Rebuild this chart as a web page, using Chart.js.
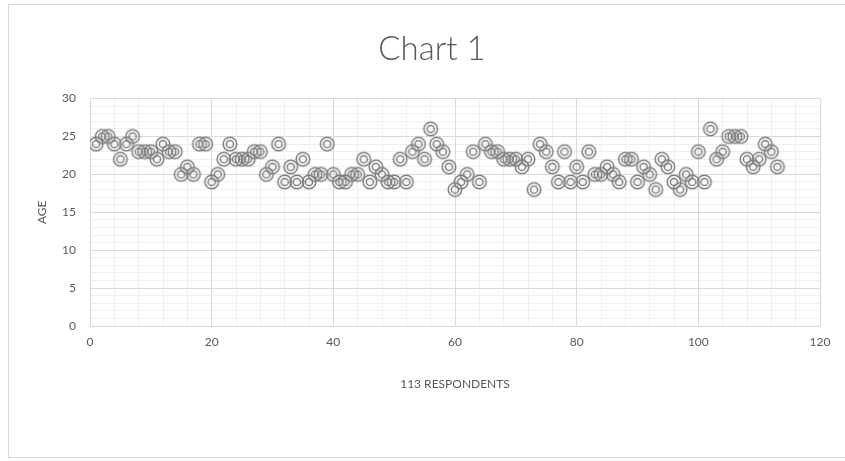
<!DOCTYPE html>
<html>
<head>
<meta charset="utf-8">
<script src="https://cdn.jsdelivr.net/npm/chart.js@4"></script>
<style>
  html, body { margin: 0; padding: 0; background: #fff; }
  #wrap { width: 845px; height: 461px; }
</style>
</head>
<body>
<div id="wrap"><canvas id="myChart" width="845" height="461"></canvas></div>
<script>
// ages of the 113 respondents, in order
const ages = [
    24, 25, 25, 24, 22, 24, 25, 23, 23, 23,
    22, 24, 23, 23, 20, 21, 20, 24, 24, 19,
    20, 22, 24, 22, 22, 22, 23, 23, 20, 21,
    24, 19, 21, 19, 22, 19, 20, 20, 24, 20,
    19, 19, 20, 20, 22, 19, 21, 20, 19, 19,
    22, 19, 23, 24, 22, 26, 24, 23, 21, 18,
    19, 20, 23, 19, 24, 23, 23, 22, 22, 22,
    21, 22, 18, 24, 23, 21, 19, 23, 19, 21,
    19, 23, 20, 20, 21, 20, 19, 22, 22, 19,
    21, 20, 18, 22, 21, 19, 18, 20, 19, 23,
    19, 26, 22, 23, 25, 25, 25, 22, 21, 22,
    24, 23, 21
];
const xTicks = [0, 20, 40, 60, 80, 100, 120];
const yTicks = [0, 5, 10, 15, 20, 25, 30];

const points = ages.map((a, i) => ({ x: i + 1, y: a }));

// double circle marker
const marker = document.createElement("canvas");
marker.width = 18;
marker.height = 18;
const mctx = marker.getContext("2d");
mctx.strokeStyle = "#7f7f7f";
mctx.lineWidth = 1.5;
mctx.beginPath();
mctx.arc(9, 9, 6.8, 0, Math.PI * 2);
mctx.stroke();
mctx.beginPath();
mctx.arc(9, 9, 3.6, 0, Math.PI * 2);
mctx.stroke();

const frame = {
    id: "frame",
    beforeDraw(chart) {
        const c = chart.ctx;
        c.save();
        c.fillStyle = "#fff";
        c.fillRect(0, 0, chart.width, chart.height);
        c.strokeStyle = "#d9d9d9";
        c.lineWidth = 1;
        c.strokeRect(8.5, 4.5, 900, 453);
        c.restore();
    }
};

const txt = "#595959";
const major = "#d9d9d9";
const minor = "#efefef";

new Chart("myChart", {
    type: "scatter",
    data: {
        datasets: [{
            data: points,
            pointStyle: marker,
            pointRadius: 8,
            pointHoverRadius: 8
        }]
    },
    plugins: [frame],
    options: {
        responsive: false,
        animation: false,
        layout: { padding: { left: 19, right: 0, top: 0, bottom: 0 } },
        plugins: {
            legend: { display: false },
            tooltip: { enabled: false },
            title: {
                display: true,
                text: "Chart 1",
                color: txt,
                font: { family: "Lato", size: 33, weight: "300" },
                padding: { top: 30, bottom: 29 }
            }
        },
        scales: {
            x: {
                type: "linear",
                position: "bottom",
                min: 0,
                max: 120,
                afterBuildTicks: s => { s.ticks = xTicks.map(v => ({ value: v })); },
                afterFit: s => { s.height = 135; },
                grid: { color: major, drawTicks: false },
                border: { color: major },
                ticks: { color: txt, padding: 9, font: { family: "Lato", size: 12 } },
                title: {
                    display: true,
                    text: "113 RESPONDENTS",
                    color: txt,
                    font: { family: "Lato", size: 12 },
                    padding: { top: 0, bottom: 70 }
                }
            },
            xMinor: {
                type: "linear",
                position: "top",
                min: 0,
                max: 120,
                ticks: { display: false, stepSize: 4 },
                afterFit: s => { s.height = 0; },
                grid: { color: minor, drawTicks: false, z: -2 },
                border: { display: false }
            },
            y: {
                position: "left",
                min: 0,
                max: 30,
                afterBuildTicks: s => { s.ticks = yTicks.map(v => ({ value: v })); },
                afterFit: s => { s.width = 71; },
                grid: { color: major, drawTicks: false },
                border: { display: false },
                ticks: { color: txt, padding: 14, font: { family: "Lato", size: 12 } },
                title: {
                    display: true,
                    text: "AGE",
                    color: txt,
                    font: { family: "Lato", size: 12 },
                    padding: { top: 16, bottom: 0 }
                }
            },
            yMinor: {
                position: "right",
                min: 0,
                max: 30,
                ticks: { display: false, stepSize: 1 },
                afterFit: s => { s.width = 25; },
                grid: { color: minor, drawTicks: false, z: -2 },
                border: { display: false }
            }
        }
    }
});
</script>
</body>
</html>
